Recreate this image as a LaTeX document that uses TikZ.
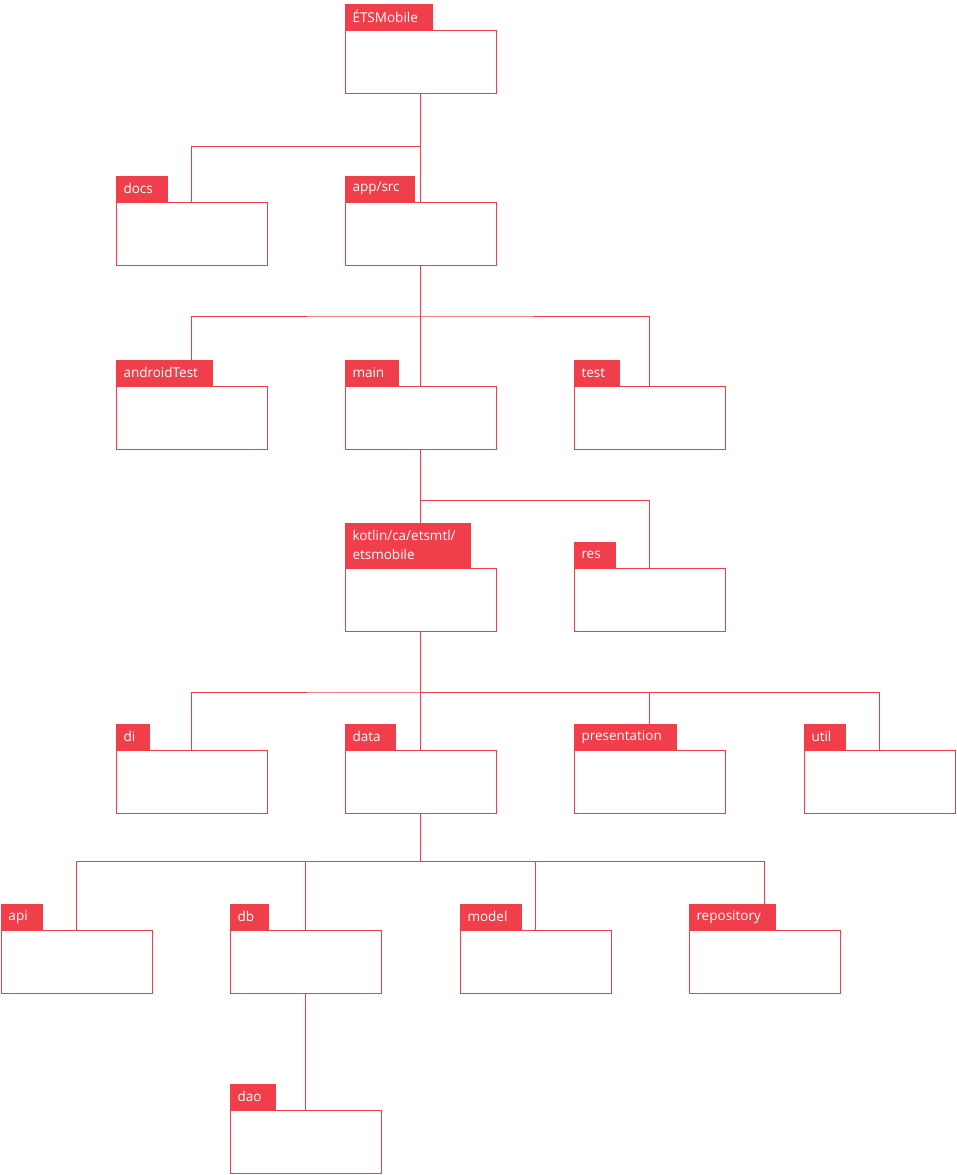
\documentclass[tikz,border=0pt]{standalone}
\usepackage{fontspec}
\setmainfont{Open Sans}
\usepackage{xcolor}
\definecolor{etsred}{RGB}{240,62,74}

\begin{document}
\begin{tikzpicture}[x=1pt, y=-1pt,
		folder/.style={draw=etsred, line width=0.8pt, minimum width=151pt, minimum height=63pt, anchor=north west, inner sep=0pt, outer sep=0pt},
		tab/.style={fill=etsred, text=white, anchor=south west, minimum height=26.5pt, inner xsep=7.5pt, inner ysep=4pt, outer sep=0pt, align=left, font=\fontsize{13.5}{19}\selectfont, execute at end node=\hspace{7.5pt}},
		link/.style={draw=etsred, line width=0.8pt}]
			\useasboundingbox (0,0) rectangle (956,1175);
			% 目录框
			\node[folder] (root) at (345,30) {};
			\node[folder] (docs) at (116,202) {};
			\node[folder] (app) at (345,202) {};
			\node[folder] (androidTest) at (116,386) {};
			\node[folder] (main) at (345,386) {};
			\node[folder] (test) at (574,386) {};
			\node[folder] (kotlin) at (345,568) {};
			\node[folder] (res) at (574,568) {};
			\node[folder] (di) at (116,750) {};
			\node[folder] (data) at (345,750) {};
			\node[folder] (presentation) at (574,750) {};
			\node[folder] (util) at (804,750) {};
			\node[folder] (api) at (1,930) {};
			\node[folder] (db) at (230,930) {};
			\node[folder] (model) at (460,930) {};
			\node[folder] (repository) at (689,930) {};
			\node[folder] (dao) at (230,1110) {};
			% 连线
			\coordinate (bus1) at (0,146);
			\coordinate (bus2) at (0,316);
			\coordinate (bus3) at (0,500);
			\coordinate (bus4) at (0,692);
			\coordinate (bus5) at (0,861);
			\draw[link] (root.south) -- (app.north);
			\draw[link] (root.south |- bus1) -| (docs.north);
			\draw[link] (app.south) -- (main.north);
			\draw[link] (androidTest.north) |- (app.south |- bus2) -| (test.north);
			\draw[link] (main.south) -- (kotlin.north);
			\draw[link] (main.south |- bus3) -| (res.north);
			\draw[link] (kotlin.south) -- (data.north);
			\draw[link] (di.north) |- (kotlin.south |- bus4) -| (util.north);
			\draw[link] (kotlin.south |- bus4) -| (presentation.north);
			\draw[link] (data.south) -- (data.south |- bus5);
			\draw[link] (api.north) |- (data.south |- bus5) -| (repository.north);
			\draw[link] (db.north |- bus5) -- (db.north);
			\draw[link] (model.north |- bus5) -- (model.north);
			\draw[link] (db.south) -- (dao.north);
			% 标签
			\node[tab] (rootT) at (root.north west) {ÉTSMobile};
			\node[tab] (docsT) at (docs.north west) {docs};
			\node[tab] (appT) at (app.north west) {app/src};
			\node[tab] (androidTestT) at (androidTest.north west) {androidTest};
			\node[tab] (mainT) at (main.north west) {main};
			\node[tab] (testT) at (test.north west) {test};
			\node[tab, inner ysep=8pt] (kotlinT) at (kotlin.north west) {kotlin/ca/etsmtl/\\etsmobile};
			\node[tab] (resT) at (res.north west) {res};
			\node[tab] (diT) at (di.north west) {di};
			\node[tab] (dataT) at (data.north west) {data};
			\node[tab] (presentationT) at (presentation.north west) {presentation};
			\node[tab] (utilT) at (util.north west) {util};
			\node[tab] (apiT) at (api.north west) {api};
			\node[tab] (dbT) at (db.north west) {db};
			\node[tab] (modelT) at (model.north west) {model};
			\node[tab] (repositoryT) at (repository.north west) {repository};
			\node[tab] (daoT) at (dao.north west) {dao};
		\end{tikzpicture}
\end{document}
